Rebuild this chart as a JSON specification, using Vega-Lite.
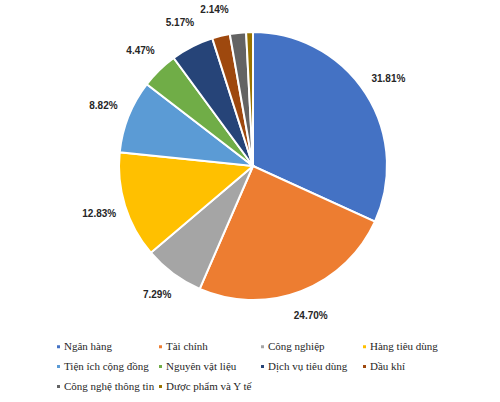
{
  "$schema": "https://vega.github.io/schema/vega-lite/v6.json",
  "width": 494,
  "height": 332,
  "padding": {"left": 6, "top": 0, "right": 0, "bottom": 70},
  "autosize": {"type": "none"},
  "background": "white",
  "config": {"view": {"stroke": null}},
  "data": {
    "values": [
      {"sector": "Ngân hàng", "value": 31.81, "label": "31.81%", "order": 1},
      {"sector": "Tài chính", "value": 24.70, "label": "24.70%", "order": 2},
      {"sector": "Công nghiệp", "value": 7.29, "label": "7.29%", "order": 3},
      {"sector": "Hàng tiêu dùng", "value": 12.83, "label": "12.83%", "order": 4},
      {"sector": "Tiện ích cộng đồng", "value": 8.82, "label": "8.82%", "order": 5},
      {"sector": "Nguyên vật liệu", "value": 4.47, "label": "4.47%", "order": 6},
      {"sector": "Dịch vụ tiêu dùng", "value": 5.17, "label": "5.17%", "order": 7},
      {"sector": "Dầu khí", "value": 2.14, "label": "2.14%", "order": 8},
      {"sector": "Công nghệ thông tin", "value": 1.95, "label": "", "order": 9},
      {"sector": "Dược phẩm và Y tế", "value": 0.82, "label": "", "order": 10}
    ]
  },
  "encoding": {
    "theta": {"field": "value", "type": "quantitative", "stack": true},
    "order": {"field": "order", "type": "quantitative"}
  },
  "layer": [
    {
      "mark": {"type": "arc", "outerRadius": 134, "stroke": "white", "strokeWidth": 2},
      "encoding": {
        "color": {
          "field": "sector",
          "type": "nominal",
          "scale": {
            "domain": ["Ngân hàng", "Tài chính", "Công nghiệp", "Hàng tiêu dùng", "Tiện ích cộng đồng", "Nguyên vật liệu", "Dịch vụ tiêu dùng", "Dầu khí", "Công nghệ thông tin", "Dược phẩm và Y tế"],
            "range": ["#4472C4", "#ED7D31", "#A5A5A5", "#FFC000", "#5B9BD5", "#70AD47", "#264478", "#9E480E", "#636363", "#997300"]
          },
          "legend": {
            "title": null,
            "orient": "none",
            "legendX": 47,
            "legendY": 341,
            "columns": 4,
            "direction": "horizontal",
            "gridAlign": "all",
            "columnPadding": -12,
            "rowPadding": 8,
            "symbolType": "square",
            "symbolSize": 9,
            "symbolStrokeWidth": 0,
            "labelOffset": 0,
            "labelFont": "Liberation Serif",
            "labelFontSize": 11,
            "labelColor": "#262626",
            "padding": 0
          }
        }
      }
    },
    {
      "mark": {"type": "text", "radius": 161, "font": "Liberation Sans", "fontSize": 10, "fontWeight": "bold", "color": "#262626"},
      "encoding": {
        "text": {"field": "label", "type": "nominal"}
      }
    }
  ]
}
